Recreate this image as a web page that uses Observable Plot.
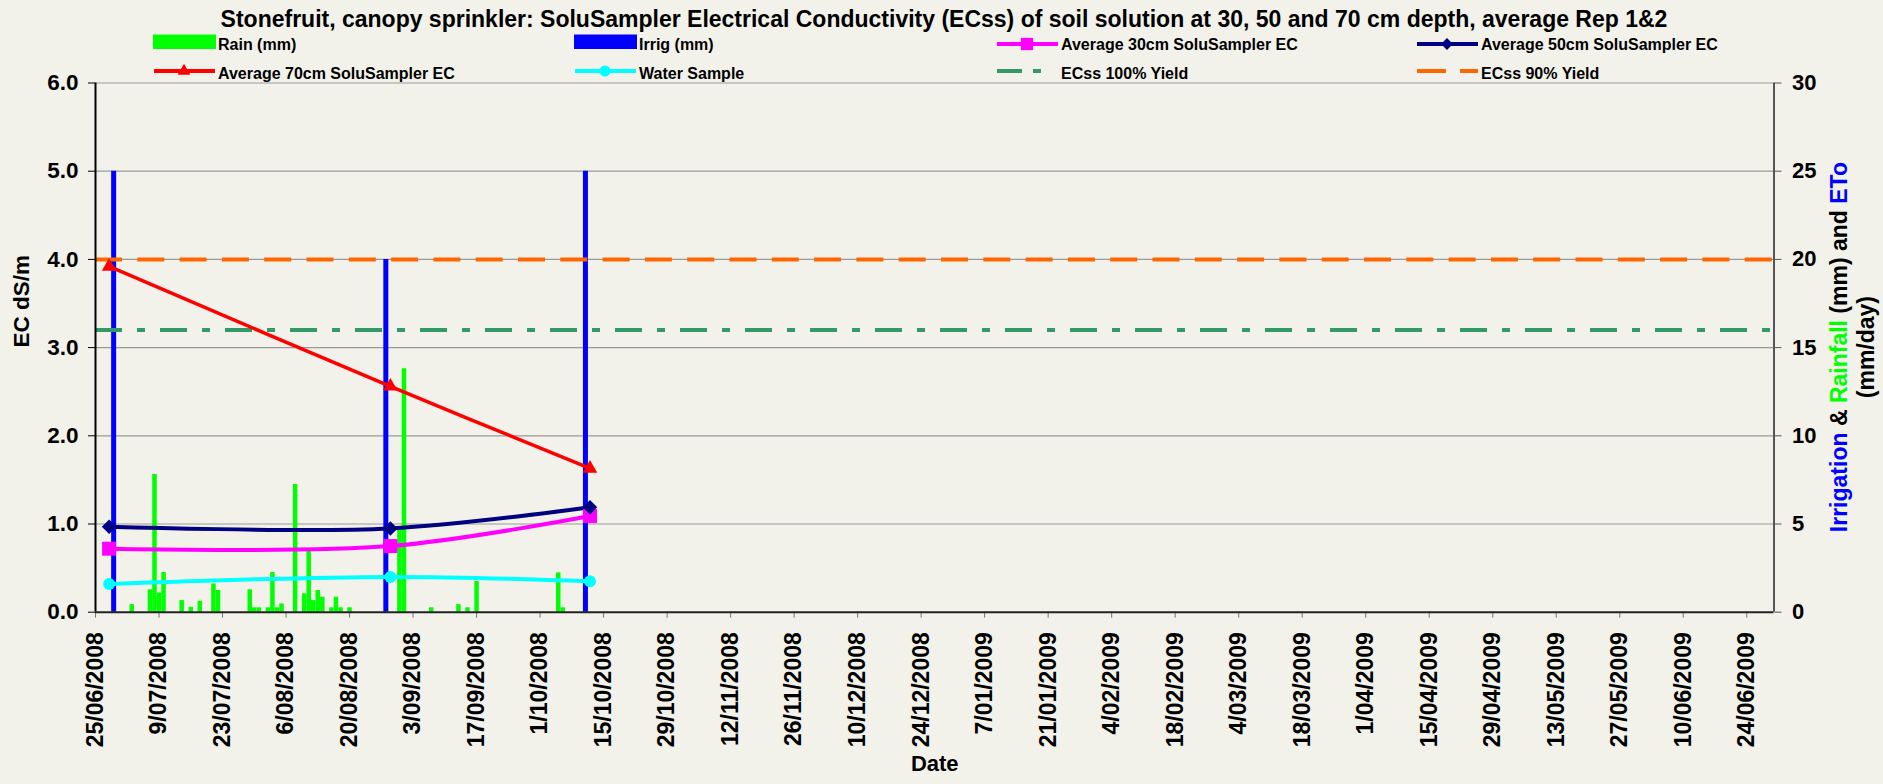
<!DOCTYPE html>
<html>
<head>
<meta charset="utf-8">
<script src="https://cdn.jsdelivr.net/npm/d3@7"></script>
<script src="https://cdn.jsdelivr.net/npm/@observablehq/plot@0.6"></script>
<style>
  html, body { margin: 0; padding: 0; background: #f2f2ea; }
  #wrap { position: relative; width: 1883px; height: 784px; overflow: hidden; background: #f2f2ea; }
  svg { display: block; }
  #head { position: absolute; left: 0; top: 0; pointer-events: none; }
</style>
</head>
<body>
<div id="wrap"></div>
<script>
// ---------- data ----------
const titleText = "Stonefruit, canopy sprinkler: SoluSampler Electrical Conductivity (ECss) of soil solution at 30, 50 and 70 cm depth, average Rep 1&2";
const xTickLabels = ["25/06/2008","9/07/2008","23/07/2008","6/08/2008","20/08/2008","3/09/2008","17/09/2008","1/10/2008","15/10/2008","29/10/2008","12/11/2008","26/11/2008","10/12/2008","24/12/2008","7/01/2009","21/01/2009","4/02/2009","18/02/2009","4/03/2009","18/03/2009","1/04/2009","15/04/2009","29/04/2009","13/05/2009","27/05/2009","10/06/2009","24/06/2009"];
const xDomainLabels = ["25/06/2008", "30/06/2009"];
const leftTicks = [0, 1, 2, 3, 4, 5, 6];
const rightTicks = [0, 5, 10, 15, 20, 25, 30];

const rainDates = ["3/07/2008","7/07/2008","8/07/2008","9/07/2008","10/07/2008","14/07/2008","16/07/2008","18/07/2008","21/07/2008","22/07/2008","29/07/2008","30/07/2008","31/07/2008","2/08/2008","3/08/2008","4/08/2008","5/08/2008","8/08/2008","10/08/2008","11/08/2008","12/08/2008","13/08/2008","14/08/2008","16/08/2008","17/08/2008","18/08/2008","20/08/2008","31/08/2008","1/09/2008","7/09/2008","13/09/2008","15/09/2008","17/09/2008","5/10/2008","6/10/2008"];
const rainMm = [0.43,1.27,7.8,1.08,2.25,0.66,0.28,0.62,1.6,1.23,1.27,0.25,0.25,0.25,2.25,0.25,0.47,7.24,1.04,3.46,0.66,1.23,0.85,0.25,0.85,0.25,0.25,4.63,13.8,0.25,0.43,0.25,1.74,2.23,0.25];

const irrigDates = ["29/06/2008","28/08/2008","11/10/2008"];
const irrigMm = [25, 20, 25];

const sampleDates = ["28/06/2008","29/08/2008","12/10/2008"];
const ec30 = [0.72, 0.75, 1.09];
const ec50 = [0.97, 0.95, 1.19];
const ec70 = [3.92, 2.56, 1.63];
const waterEC = [0.32, 0.40, 0.35];

const ecss100 = [3.2];
const ecss90 = [4.0];
const leftMax = 6, rightMax = 30;

// ---------- helpers ----------
const parse = s => { const [d, m, y] = s.split("/").map(Number); return new Date(Date.UTC(y, m - 1, d)); };
const toLeft = mm => mm * leftMax / rightMax;
const xTicks = xTickLabels.map(parse);
const tickLabelMap = new Map(xTickLabels.map(s => [+parse(s), s]));
const rain = rainDates.map((d, i) => ({date: parse(d), mm: rainMm[i]}));
const irrig = irrigDates.map((d, i) => ({date: parse(d), mm: irrigMm[i]}));
const samples = sampleDates.map((d, i) => ({date: parse(d), ec30: ec30[i], ec50: ec50[i], ec70: ec70[i], water: waterEC[i]}));

const diamond = { draw(ctx, size) { const r = Math.sqrt(size / 2); ctx.moveTo(0, -r); ctx.lineTo(r, 0); ctx.lineTo(0, r); ctx.lineTo(-r, 0); ctx.closePath(); } };

const FONT = "'Liberation Sans', Arial, Helvetica, sans-serif";
const BG = "#f2f2ea";
const C = {rain: "#00ff00", irrig: "#0000ff", ec30: "#ff00ff", ec50: "#000080", ec70: "#ff0000", water: "#00ffff", y100: "#339966", y90: "#ff6600"};

const wrap = d3.select("#wrap");

// ---------- plot ----------
const xDomain = xDomainLabels.map(parse);
const H = 784, MT = 82.5, MB = 172.3;
const chart = Plot.plot({
  width: 1883, height: H,
  marginTop: MT, marginBottom: MB, marginLeft: 95, marginRight: 109.5,
  style: {background: BG, fontFamily: FONT, fontWeight: "bold", fontSize: "22px", color: "#000", overflow: "visible"},
  x: {type: "utc", domain: xDomain},
  y: {domain: [0, leftMax]},
  marks: [
    Plot.gridY(leftTicks.filter(v => v > 0), {stroke: "#999", strokeOpacity: 1, strokeWidth: 1.2}),
    Plot.ruleX(rain, {x: "date", y1: 0, y2: d => toLeft(d.mm), stroke: C.rain, strokeWidth: 4.5}),
    Plot.ruleX(irrig, {x: "date", y1: 0, y2: d => toLeft(d.mm), stroke: C.irrig, strokeWidth: 5}),
    Plot.ruleY(ecss100, {stroke: C.y100, strokeWidth: 4, strokeDasharray: "27,15,8,15"}),
    Plot.ruleY(ecss90, {stroke: C.y90, strokeWidth: 4, strokeDasharray: "27,15.3"}),
    Plot.line(samples, {x: "date", y: "water", stroke: C.water, strokeWidth: 4, curve: "catmull-rom"}),
    Plot.line(samples, {x: "date", y: "ec30", stroke: C.ec30, strokeWidth: 4, curve: "catmull-rom"}),
    Plot.line(samples, {x: "date", y: "ec50", stroke: C.ec50, strokeWidth: 4, curve: "catmull-rom"}),
    Plot.line(samples, {x: "date", y: "ec70", stroke: C.ec70, strokeWidth: 3.5, curve: "catmull-rom"}),
    Plot.dot(samples, {x: "date", y: "water", symbol: "circle", r: 6, fill: C.water}),
    Plot.dot(samples, {x: "date", y: "ec30", symbol: "square", r: 7.9, fill: C.ec30}),
    Plot.dot(samples, {x: "date", y: "ec50", symbol: diamond, r: 5.8, fill: C.ec50}),
    Plot.dot(samples, {x: "date", y: "ec70", symbol: "triangle", r: 5.4, fill: C.ec70}),
    // axes
    Plot.axisY(leftTicks, {anchor: "left", tickFormat: d3.format(".1f"), tickSize: 7, tickPadding: 10, label: null, stroke: "#000", fontSize: 22.5}),
    Plot.axisY(rightTicks.map(toLeft), {anchor: "right", tickFormat: v => String(Math.round(v * rightMax / leftMax)), tickSize: 7, tickPadding: 11, label: null, stroke: "#555", fontSize: 22}),
    Plot.axisX(xTicks, {anchor: "bottom", tickFormat: d => tickLabelMap.get(+d), tickRotate: -90, tickSize: 6, tickPadding: 14, label: null, stroke: "#777", fontSize: 23}),
    Plot.ruleX([xDomain[0]], {stroke: "#000", strokeWidth: 2}),
    Plot.ruleX([xDomain[1]], {stroke: "#555", strokeWidth: 2}),
    Plot.ruleY([0], {stroke: "#222", strokeWidth: 2}),
    Plot.text(["EC dS/m"], {frameAnchor: "left", dx: -73.3, rotate: -90, fontSize: 22.5}),
    Plot.text(["Date"], {frameAnchor: "bottom", dy: 159, fontSize: 22})
  ]
});
wrap.node().appendChild(chart);

// multi-coloured right axis title
const svg = d3.select(chart);
const cy = (MT + (H - MB)) / 2;
const t1 = svg.append("text").attr("transform", `translate(1847,${cy}) rotate(-90)`)
  .attr("text-anchor", "middle").attr("font-size", 23).attr("font-family", FONT).attr("font-weight", "bold");
[["Irrigation", C.irrig], [" & ", "#000"], ["Rainfall", C.rain], [" (mm) and ", "#000"], ["ETo", C.irrig]]
  .forEach(([s, c]) => t1.append("tspan").attr("fill", c).text(s));
svg.append("text").attr("transform", `translate(1874,${cy}) rotate(-90)`)
  .attr("text-anchor", "middle").attr("font-size", 23).attr("font-family", FONT).attr("font-weight", "bold")
  .attr("fill", "#000").text("(mm/day)");

// ---------- header (title + legend), laid over the top margin ----------
const head = wrap.append("svg").attr("id", "head").attr("width", 1883).attr("height", 90)
  .style("font-family", FONT).style("font-weight", "bold");
head.append("text").attr("x", 944).attr("y", 27).attr("text-anchor", "middle")
  .attr("font-size", 23).text(titleText);

const legendItems = [
  {label: "Rain (mm)", kind: "rect", color: C.rain, col: 0, row: 0},
  {label: "Irrig (mm)", kind: "rect", color: C.irrig, col: 1, row: 0},
  {label: "Average 30cm SoluSampler EC", kind: "line", color: C.ec30, sym: d3.symbolSquare, size: 150, col: 2, row: 0},
  {label: "Average 50cm SoluSampler EC", kind: "line", color: C.ec50, sym: diamond, size: 70, col: 3, row: 0},
  {label: "Average 70cm SoluSampler EC", kind: "line", color: C.ec70, sym: d3.symbolTriangle, size: 70, col: 0, row: 1},
  {label: "Water Sample", kind: "line", color: C.water, sym: d3.symbolCircle, size: 95, col: 1, row: 1},
  {label: "ECss 100% Yield", kind: "line", color: C.y100, dash: "25,11,8,40", col: 2, row: 1},
  {label: "ECss 90% Yield", kind: "line", color: C.y90, dash: "29,14", col: 3, row: 1}
];
const colX = [153, 574, 996, 1416];
const rowText = [50, 79];
const rowLine = [44, 71];
legendItems.forEach(it => {
  const x0 = colX[it.col];
  const g = head.append("g");
  if (it.kind === "rect") {
    g.append("rect").attr("x", x0).attr("y", 34.5).attr("width", 63).attr("height", 14.5).attr("fill", it.color);
  } else {
    const ly = rowLine[it.row];
    g.append("line").attr("x1", x0 + 1).attr("x2", x0 + 62).attr("y1", ly).attr("y2", ly)
      .attr("stroke", it.color).attr("stroke-width", 4).attr("stroke-dasharray", it.dash || null);
    if (it.sym) g.append("path").attr("transform", `translate(${x0 + 31},${ly})`)
      .attr("d", d3.symbol(it.sym, it.size)()).attr("fill", it.color);
  }
  g.append("text").attr("x", x0 + 65).attr("y", rowText[it.row]).attr("font-size", 16).text(it.label);
});
</script>
</body>
</html>
